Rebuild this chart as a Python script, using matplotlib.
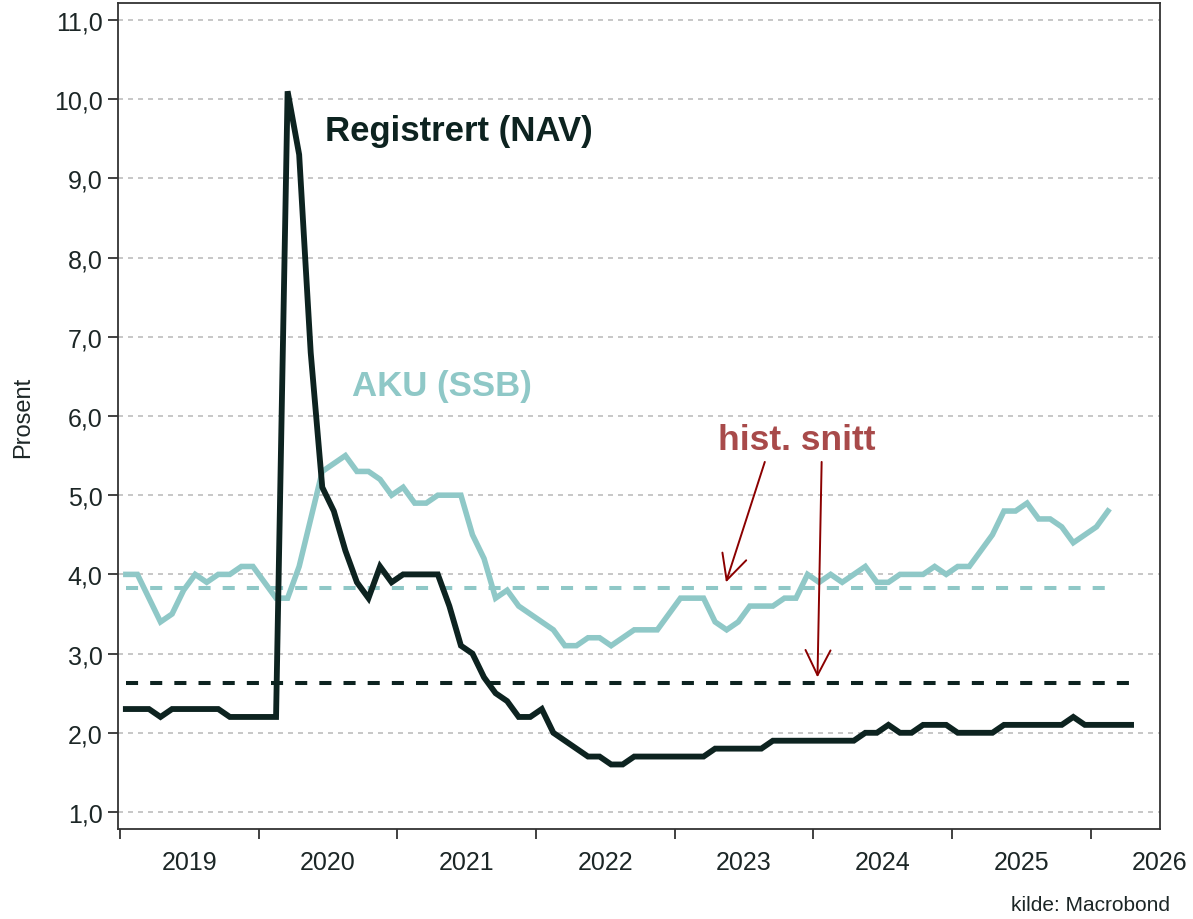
import numpy as np
import matplotlib.pyplot as plt
from matplotlib.ticker import FixedLocator, FuncFormatter

#%% data (monthly, from Jan 2019)
nav = [2.3, 2.3, 2.3, 2.2, 2.3, 2.3, 2.3, 2.3, 2.3, 2.2, 2.2, 2.2,   # 2019
       2.2, 2.2, 10.1, 9.3, 6.8, 5.1, 4.8, 4.3, 3.9, 3.7, 4.1, 3.9,  # 2020
       4.0, 4.0, 4.0, 4.0, 3.6, 3.1, 3.0, 2.7, 2.5, 2.4, 2.2, 2.2,   # 2021
       2.3, 2.0, 1.9, 1.8, 1.7, 1.7, 1.6, 1.6, 1.7, 1.7, 1.7, 1.7,   # 2022
       1.7, 1.7, 1.7, 1.8, 1.8, 1.8, 1.8, 1.8, 1.9, 1.9, 1.9, 1.9,   # 2023
       1.9, 1.9, 1.9, 1.9, 2.0, 2.0, 2.1, 2.0, 2.0, 2.1, 2.1, 2.1,   # 2024
       2.0, 2.0, 2.0, 2.0, 2.1, 2.1, 2.1, 2.1, 2.1, 2.1, 2.2, 2.1,   # 2025
       2.1, 2.1, 2.1, 2.1]                                           # 2026

aku = [4.0, 4.0, 3.7, 3.4, 3.5, 3.8, 4.0, 3.9, 4.0, 4.0, 4.1, 4.1,
       3.9, 3.7, 3.7, 4.1, 4.7, 5.3, 5.4, 5.5, 5.3, 5.3, 5.2, 5.0,
       5.1, 4.9, 4.9, 5.0, 5.0, 5.0, 4.5, 4.2, 3.7, 3.8, 3.6, 3.5,
       3.4, 3.3, 3.1, 3.1, 3.2, 3.2, 3.1, 3.2, 3.3, 3.3, 3.3, 3.5,
       3.7, 3.7, 3.7, 3.4, 3.3, 3.4, 3.6, 3.6, 3.6, 3.7, 3.7, 4.0,
       3.9, 4.0, 3.9, 4.0, 4.1, 3.9, 3.9, 4.0, 4.0, 4.0, 4.1, 4.0,
       4.1, 4.1, 4.3, 4.5, 4.8, 4.8, 4.9, 4.7, 4.7, 4.6, 4.4, 4.5,
       4.6, 4.8]

nav_snitt = 2.63
aku_snitt = 3.83

years = [2019, 2020, 2021, 2022, 2023, 2024, 2025, 2026]
yticks = [1, 2, 3, 4, 5, 6, 7, 8, 9, 10, 11]

#%% farger
c_nav = '#0d2320'
c_aku = '#8fc8c7'
c_txt = '#1c2626'
c_red = '#8b0000'

plt.rcParams['font.family'] = ['Liberation Sans', 'DejaVu Sans']

def mnd(n):
    # midten av hver maaned
    return 2019 + (np.arange(n) + 0.5) / 12

x_nav = mnd(len(nav))
x_aku = mnd(len(aku))

fig = plt.figure(figsize=(11.93, 9.2), dpi=100)
ax = fig.add_axes([0.0989, 0.0978, 0.8734, 0.8979])

ax.set_ylim(0.785, 11.215)
ax.set_xlim(2018.985, 2026.5)

# grid
for v in yticks:
    ax.axhline(v, color='#bdbdbd', lw=1.2, ls=(0, (3, 3)), zorder=1)

ax.plot(x_nav, [nav_snitt] * len(nav), color=c_nav, lw=2.9, ls=(0, (3, 3)), zorder=2)
ax.plot(x_aku, [aku_snitt] * len(aku), color=c_aku, lw=2.9, ls=(0, (3, 3)), zorder=2)

ax.plot(x_aku, aku, color=c_aku, lw=4.0, zorder=3, solid_joinstyle='miter')
ax.plot(x_nav, nav, color=c_nav, lw=4.2, zorder=4, solid_joinstyle='miter')

# tekster
ax.text(2020.48, 9.61, 'Registrert (NAV)', color=c_nav, fontsize=25, fontweight='bold', va='center')
ax.text(2020.67, 6.39, 'AKU (SSB)', color=c_aku, fontsize=25, fontweight='bold', va='center')
ax.text(2023.31, 5.70, 'hist. snitt', color='#a84a4a', fontsize=25.5, fontweight='bold', va='center')

pil = dict(arrowstyle='->,head_length=0.9,head_width=0.45', color=c_red, lw=1.4,
           mutation_scale=20, shrinkA=0, shrinkB=0)
ax.annotate('', xy=(2023.37, 3.90), xytext=(2023.65, 5.42), arrowprops=pil)
ax.annotate('', xy=(2024.03, 2.70), xytext=(2024.06, 5.42), arrowprops=pil)

# akser
ax.yaxis.set_major_locator(FixedLocator(yticks))
ax.yaxis.set_major_formatter(FuncFormatter(lambda v, p: f'{v:.1f}'.replace('.', ',')))
ax.tick_params(axis='y', length=7, width=1.3, color='#333333', labelsize=18,
               labelcolor=c_txt, pad=4)

ax.xaxis.set_major_locator(FixedLocator(years))
ax.xaxis.set_minor_locator(FixedLocator([y + 0.5 for y in years]))
ax.xaxis.set_major_formatter(FuncFormatter(lambda v, p: ''))
ax.xaxis.set_minor_formatter(FuncFormatter(lambda v, p: str(int(v))))
ax.tick_params(axis='x', which='major', length=7, width=1.3, color='#333333')
ax.tick_params(axis='x', which='minor', length=0, labelsize=18, labelcolor=c_txt, pad=15)

for s in ax.spines.values():
    s.set_color('#333333')
    s.set_linewidth(1.3)

ax.set_ylabel('Prosent', fontsize=17, color=c_txt, labelpad=14)

fig.text(0.981, 0.0163, 'kilde: Macrobond', fontsize=15, color=c_txt, ha='right', va='center')

fig.savefig('out.png', dpi=100)
